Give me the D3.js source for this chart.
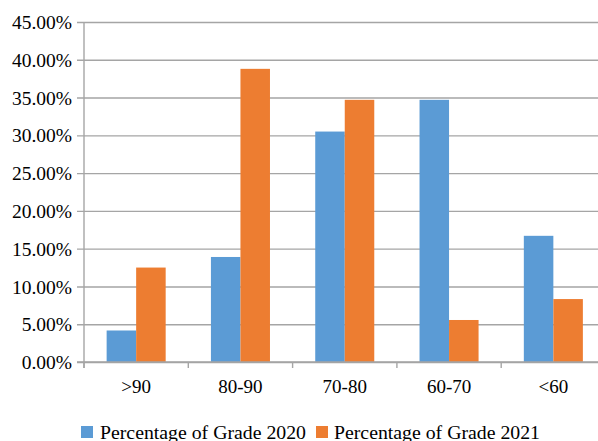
<!DOCTYPE html>
<html>
<head>
<meta charset="utf-8">
<script src="https://cdn.jsdelivr.net/npm/d3@7"></script>
<style>
  html, body { margin: 0; padding: 0; background: #fff; }
  svg { display: block; }
</style>
</head>
<body>
<svg id="chart" width="598" height="441"></svg>
<script>
const categories = [">90", "80-90", "70-80", "60-70", "<60"];
const seriesNames = ["Percentage of Grade 2020", "Percentage of Grade 2021"];
const grade2020 = [4.17, 13.9, 30.5, 34.7, 16.7];
const grade2021 = [12.5, 38.8, 34.7, 5.56, 8.33];
const yTicks = [0, 5, 10, 15, 20, 25, 30, 35, 40, 45];
const colors = ["#5b9bd5", "#ed7d31"];

const FONT = "'Times New Roman', 'Liberation Serif', 'DejaVu Serif', serif";
const svg = d3.select("#chart").attr("font-family", FONT);
const mLeft = 84, mRight = 605.5, mTop = 22, mBottom = 362;
const gridColor = "#a5a5a5";

const y = d3.scaleLinear().domain([0, 45]).range([mBottom, mTop]);
const x = d3.scaleBand().domain(categories).range([mLeft, mRight]).padding(0);
const bw = x.bandwidth();
const x1 = d3.scaleBand().domain(seriesNames).range([bw * 0.217, bw * 0.783]).padding(0);

// gridlines and y axis labels
const yAxis = d3.axisLeft(y).tickValues(yTicks)
  .tickFormat(d => d.toFixed(2) + "%")
  .tickSize(-(598 - mLeft)).tickPadding(12);
const gy = svg.append("g").attr("transform", `translate(${mLeft},0)`).call(yAxis);
gy.attr("font-family", FONT).attr("font-size", 19);
gy.select(".domain").remove();
gy.selectAll(".tick line").attr("stroke", gridColor).attr("stroke-width", 1.4).attr("x1", -7);
gy.selectAll(".tick text").attr("font-size", 19.5).attr("font-family", FONT).attr("fill", "#000").attr("dy", "0.34em");

// bars
const data = categories.map((c, i) => ({ c, vals: [grade2020[i], grade2021[i]] }));
const groups = svg.append("g").selectAll("g").data(data).join("g")
  .attr("transform", d => `translate(${x(d.c)},0)`);
groups.selectAll("rect").data(d => d.vals.map((v, j) => ({ v, s: seriesNames[j], j })))
  .join("rect")
  .attr("x", d => x1(d.s))
  .attr("width", x1.bandwidth())
  .attr("y", d => y(d.v))
  .attr("height", d => y(0) - y(d.v))
  .attr("fill", d => colors[d.j]);

// axes lines
svg.append("line").attr("x1", mLeft).attr("x2", mLeft).attr("y1", mTop).attr("y2", mBottom + 6)
  .attr("stroke", gridColor).attr("stroke-width", 1.4);
svg.append("line").attr("x1", mLeft - 7).attr("x2", 598).attr("y1", mBottom).attr("y2", mBottom)
  .attr("stroke", gridColor).attr("stroke-width", 1.4);

// x ticks at category boundaries
const bounds = categories.map(c => x(c));
svg.append("g").selectAll("line").data(bounds).join("line")
  .attr("x1", d => d).attr("x2", d => d).attr("y1", mBottom).attr("y2", mBottom + 6)
  .attr("stroke", gridColor).attr("stroke-width", 1.4);

// x labels
svg.append("g").selectAll("text").data(categories).join("text")
  .attr("x", d => x(d) + bw / 2)
  .attr("y", 393)
  .attr("text-anchor", "middle")
  .attr("font-family", FONT)
  .attr("font-size", 19)
  .text(d => d);

// legend
const legendItems = [
  { name: seriesNames[0], color: colors[0], sx: 81, tx: 100 },
  { name: seriesNames[1], color: colors[1], sx: 316, tx: 334 }
];
const lg = svg.append("g");
legendItems.forEach(it => {
  lg.append("rect").attr("x", it.sx).attr("y", 426).attr("width", 12).attr("height", 12).attr("fill", it.color);
  lg.append("text").attr("x", it.tx).attr("y", 438.5).attr("font-family", FONT).attr("font-size", 19.8).text(it.name);
});
</script>
</body>
</html>
